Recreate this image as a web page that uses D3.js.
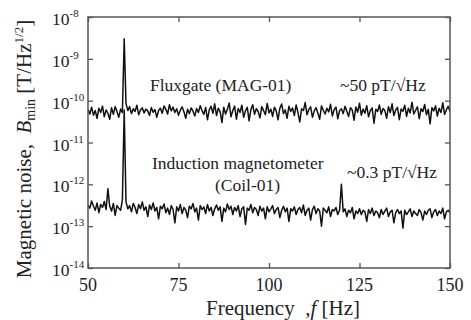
<!DOCTYPE html>
<html>
<head>
<meta charset="utf-8">
<script src="https://cdn.jsdelivr.net/npm/d3@7"></script>
<style>
  html, body { margin: 0; padding: 0; background: #fff; }
  svg { display: block; font-family: 'Liberation Serif', 'DejaVu Serif', serif; }
</style>
</head>
<body>
<svg id="chart" width="471" height="320"></svg>
<script>
// frequency grid: 50 .. 150 Hz, 0.5 Hz step
const freqStart = 50;
const freqStep = 0.5;

// fluxgate MAG-01 noise, pT/sqrt(Hz)
const fluxgatePT = [
  62, 48, 70, 45, 58, 38, 66, 52, 74, 41, 60, 50, 36, 68, 47, 72, 55, 40, 63, 52,
  3000, 85,
  58, 72, 49, 64, 55, 78, 46, 60, 68, 51,
  63, 57, 44, 69, 53, 61, 40, 58, 66, 50,
  75, 62, 48, 80, 57, 70, 52, 64, 45, 59,
  71, 54, 38, 62, 49, 67, 56, 43, 65, 52,
  76, 58, 47, 69, 35, 60, 73, 50, 84, 44,
  66, 55, 30, 70, 48, 62, 88, 41, 58, 74,
  36, 65, 52, 78, 40, 57, 69, 33, 61, 80,
  47, 64, 55, 39, 72, 58, 46, 86, 51, 63,
  42, 70, 57, 35, 66, 83, 49, 60, 38, 74,
  55, 67, 44, 79, 52, 31, 64, 58, 90, 46,
  62, 71, 40, 57, 68, 50, 36, 75, 59, 48,
  66, 54, 82, 43, 61, 70, 37, 58, 64, 49,
  73, 56, 42, 68, 60, 34, 71, 53, 87, 45,
  63, 50, 76, 41, 58, 67, 29, 62, 55, 79,
  47, 65, 58, 38, 72, 52, 84, 44, 60, 69,
  35, 63, 56, 78, 42, 66, 51, 92, 48, 59,
  71, 37, 64, 55, 81, 46, 62, 28, 68, 57,
  75, 43, 66, 52, 89, 47, 61, 73, 55
];

// induction magnetometer Coil-01 noise, fT/sqrt(Hz)
const coilFT = [
  320, 270, 400, 300, 240, 360, 210, 330, 280, 390,
  250, 780, 300, 230, 350, 180, 310, 270, 240, 420,
  60000, 380,
  260, 310, 220, 350, 280, 200, 330, 260, 380, 240,
  290, 170, 320, 250, 360, 230, 280, 150, 300, 260,
  340, 210, 270, 190, 310, 250, 120, 290, 230, 330,
  200, 280, 240, 160, 300, 260, 350, 220, 270, 140,
  310, 250, 290, 200, 330, 230, 280, 180, 260, 320,
  240, 290, 130, 270, 220, 340, 250, 300, 190, 280,
  230, 310, 170, 260, 290, 110, 270, 240, 330, 210,
  280, 250, 180, 300, 230, 270, 150, 290, 220, 260,
  310, 200, 250, 280, 160, 240, 300, 220, 270, 130,
  260, 230, 290, 190, 250, 280, 210, 320, 180, 240,
  270, 140, 250, 300, 200, 260, 230, 100, 270, 240,
  210, 290, 170, 250, 230, 280, 190, 240, 1000, 220,
  260, 170, 240, 210, 280, 150, 230, 200, 260, 190,
  240, 220, 130, 250, 200, 270, 180, 230, 210, 160,
  250, 190, 230, 270, 170, 220, 240, 120, 210, 250,
  200, 230, 90, 240, 190, 220, 260, 170, 230, 200,
  180, 250, 210, 140, 230, 190, 240, 260, 160, 220,
  250, 180, 230, 200, 270, 150, 220, 240, 210
];

const xTicks = [50, 75, 100, 125, 150];
const yExponents = [-8, -9, -10, -11, -12, -13, -14];

const labels = [
  { text: 'Fluxgate (MAG-01)', x: 150, y: 91 },
  { text: '~50 pT/\u221AHz', x: 340, y: 91 },
  { text: 'Induction magnetometer', x: 152, y: 169 },
  { text: '(Coil-01)', x: 215, y: 191 },
  { text: '~0.3 pT/\u221AHz', x: 347, y: 178 }
];

const svg = d3.select('#chart');
const plot = { left: 88, right: 450, top: 17, bottom: 268 };

const x = d3.scaleLinear().domain([50, 150]).range([plot.left, plot.right]);
const y = d3.scaleLog().domain([1e-14, 1e-8]).range([plot.bottom, plot.top]);

const flux = fluxgatePT.map((v, i) => ({ f: freqStart + i * freqStep, b: v * 1e-12 }));
const coil = coilFT.map((v, i) => ({ f: freqStart + i * freqStep, b: v * 1e-15 }));

svg.append('defs').append('clipPath').attr('id', 'clip')
  .append('rect').attr('x', plot.left).attr('y', plot.top)
  .attr('width', plot.right - plot.left).attr('height', plot.bottom - plot.top);

const line = d3.line().x((d) => x(d.f)).y((d) => y(d.b));

const traces = svg.append('g').attr('clip-path', 'url(#clip)');
[coil, flux].forEach((series) => {
  traces.append('path')
    .datum(series)
    .attr('d', line)
    .attr('fill', 'none')
    .attr('stroke', '#111')
    .attr('stroke-width', 1.5)
    .attr('stroke-linejoin', 'round');
});

// axes with inward ticks on all four sides
const tickVals = yExponents.map((e) => Math.pow(10, e));
const axisColor = '#555';

const gx = svg.append('g').attr('transform', `translate(0,${plot.bottom})`)
  .call(d3.axisBottom(x).tickValues(xTicks).tickSize(-5).tickFormat(''));
const gxTop = svg.append('g').attr('transform', `translate(0,${plot.top})`)
  .call(d3.axisTop(x).tickValues(xTicks).tickSize(-5).tickFormat(''));
const gy = svg.append('g').attr('transform', `translate(${plot.left},0)`)
  .call(d3.axisLeft(y).tickValues(tickVals).tickSize(-5).tickFormat(''));
const gyRight = svg.append('g').attr('transform', `translate(${plot.right},0)`)
  .call(d3.axisRight(y).tickValues(tickVals).tickSize(-5).tickFormat(''));

[gx, gxTop, gy, gyRight].forEach((g) => {
  g.select('.domain').remove();
  g.selectAll('line').attr('stroke', axisColor).attr('stroke-width', 1.3);
});

svg.append('rect')
  .attr('x', plot.left).attr('y', plot.top)
  .attr('width', plot.right - plot.left).attr('height', plot.bottom - plot.top)
  .attr('fill', 'none').attr('stroke', axisColor).attr('stroke-width', 1.5);

// x tick labels
svg.append('g').selectAll('text').data(xTicks).join('text')
  .attr('x', (d) => x(d)).attr('y', 291)
  .attr('text-anchor', 'middle')
  .attr('font-size', 18).attr('fill', '#222')
  .text((d) => d);

// y tick labels 10^n
const yl = svg.append('g').selectAll('text').data(yExponents).join('text')
  .attr('x', 52).attr('y', (d) => y(Math.pow(10, d)) + 8)
  .attr('font-size', 17.5).attr('fill', '#222');
yl.append('tspan').text('10');
yl.append('tspan').attr('dy', -8).attr('font-size', 11).text((d) => d);

// x axis title
const xt = svg.append('text')
  .attr('x', 283).attr('y', 315)
  .attr('text-anchor', 'middle')
  .attr('font-size', 21).attr('fill', '#222');
xt.append('tspan').text('Frequency\u00A0 ,');
xt.append('tspan').attr('font-style', 'italic').text('f');
xt.append('tspan').text(' [Hz]');

// y axis title
const yt = svg.append('text')
  .attr('transform', 'translate(31,149) rotate(-90)')
  .attr('text-anchor', 'middle')
  .attr('font-size', 21).attr('fill', '#222');
yt.append('tspan').text('Magnetic noise,\u00A0 ');
yt.append('tspan').attr('font-style', 'italic').text('B');
yt.append('tspan').attr('font-size', 14).attr('dy', 4).text('min');
yt.append('tspan').attr('dy', -4).text(' [T/Hz');
yt.append('tspan').attr('font-size', 13).attr('dy', -8).text('1/2');
yt.append('tspan').attr('dy', 8).text(']');

// annotations
svg.append('g').selectAll('text').data(labels).join('text')
  .attr('x', (d) => d.x).attr('y', (d) => d.y)
  .attr('font-size', 17.5).attr('fill', '#222')
  .text((d) => d.text);
</script>
</body>
</html>
